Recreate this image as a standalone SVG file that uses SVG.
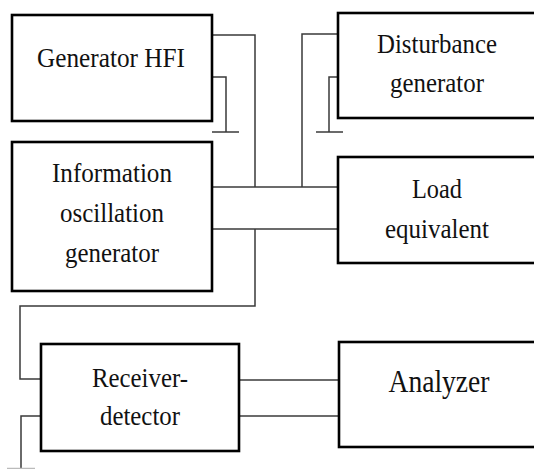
<svg xmlns="http://www.w3.org/2000/svg" width="534" height="469" viewBox="0 0 534 469">
  <style>
    .box { fill: #fff; stroke: #000; stroke-width: 2.6; }
    .wire { fill: none; stroke: #3a3a3a; stroke-width: 1.5; }
    .lbl { font-size: 28px; fill: #111; text-anchor: middle; }
  </style>
  <rect width="534" height="469" fill="#fff"/>

  <g id="connectors">
    <!-- Generator HFI feed to bus and grounded return -->
    <polyline class="wire" points="212,35 255,35 255,187"/>
    <polyline class="wire" points="212,77 226,77 226,132"/>
    <line class="wire" x1="212" y1="132" x2="239" y2="132"/>
    <!-- Disturbance generator feed to bus and grounded return -->
    <polyline class="wire" points="338,34 302,34 302,187"/>
    <polyline class="wire" points="338,77 329,77 329,132"/>
    <line class="wire" x1="316" y1="132" x2="343" y2="132"/>
    <!-- Two-wire line between oscillation generator and load -->
    <line class="wire" x1="212" y1="187" x2="338" y2="187"/>
    <line class="wire" x1="212" y1="229" x2="338" y2="229"/>
    <!-- Tap to receiver -->
    <polyline class="wire" points="255,229 255,306 20,306 20,379 41,379"/>
    <polyline class="wire" points="41,416 21,416 21,469"/>
    <line x1="7" y1="468.5" x2="35" y2="468.5" stroke="#bbb" stroke-width="1.5"/>
    <!-- Receiver to analyzer -->
    <line class="wire" x1="239" y1="380" x2="339" y2="380"/>
    <line class="wire" x1="239" y1="416" x2="339" y2="416"/>
  </g>

  <g font-family="Liberation Serif, Times New Roman, serif">
    <g id="generator-hfi">
      <rect class="box" x="12" y="15" width="200" height="106"/>
      <text class="lbl" x="111" y="67" textLength="148" lengthAdjust="spacingAndGlyphs">Generator HFI</text>
    </g>

    <g id="disturbance-generator">
      <rect class="box" x="338" y="13" width="210" height="105"/>
      <text class="lbl" x="437" y="53" textLength="120" lengthAdjust="spacingAndGlyphs">Disturbance</text>
      <text class="lbl" x="437" y="92" textLength="94" lengthAdjust="spacingAndGlyphs">generator</text>
    </g>

    <g id="info-oscillation-generator">
      <rect class="box" x="12" y="142" width="200" height="149"/>
      <text class="lbl" x="112" y="182" textLength="120" lengthAdjust="spacingAndGlyphs">Information</text>
      <text class="lbl" x="112" y="222" textLength="104" lengthAdjust="spacingAndGlyphs">oscillation</text>
      <text class="lbl" x="112" y="262" textLength="94" lengthAdjust="spacingAndGlyphs">generator</text>
    </g>

    <g id="load-equivalent">
      <rect class="box" x="338" y="157" width="210" height="106"/>
      <text class="lbl" x="437" y="198" textLength="50" lengthAdjust="spacingAndGlyphs">Load</text>
      <text class="lbl" x="437" y="238" textLength="104" lengthAdjust="spacingAndGlyphs">equivalent</text>
    </g>

    <g id="receiver-detector">
      <rect class="box" x="41" y="344" width="198" height="107"/>
      <text class="lbl" x="140" y="387" textLength="96" lengthAdjust="spacingAndGlyphs">Receiver-</text>
      <text class="lbl" x="140" y="425" textLength="80" lengthAdjust="spacingAndGlyphs">detector</text>
    </g>

    <g id="analyzer">
      <rect class="box" x="339" y="342" width="210" height="105"/>
      <text class="lbl" x="439" y="392" font-size="32" style="font-size:32px" textLength="101" lengthAdjust="spacingAndGlyphs">Analyzer</text>
    </g>
  </g>
</svg>
